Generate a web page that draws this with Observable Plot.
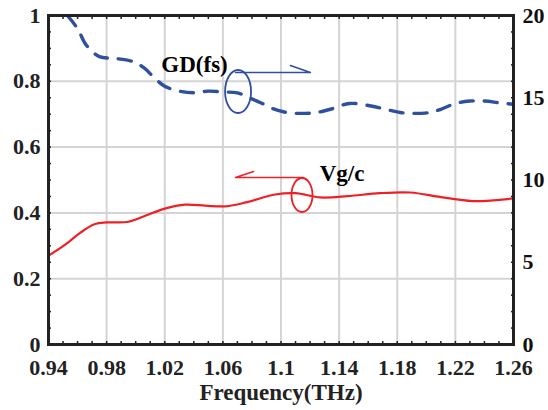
<!DOCTYPE html>
<html><head><meta charset="utf-8">
<script src="https://cdn.jsdelivr.net/npm/d3@7"></script>
<script src="https://cdn.jsdelivr.net/npm/@observablehq/plot@0.6"></script>
<style>body{margin:0;background:#fff}</style>
</head><body><div id="chart"></div>
<script>
// Red curve: Vg/c (left axis)
const vgFreq = [0.94,0.952,0.962,0.972,0.98,0.995,1.007,1.02,1.034,1.048,1.062,1.076,1.096,1.11,1.127,1.146,1.168,1.189,1.21,1.232,1.26];
const vgVal  = [0.27,0.305,0.34,0.366,0.371,0.373,0.392,0.413,0.425,0.422,0.42,0.432,0.456,0.46,0.447,0.451,0.46,0.462,0.448,0.436,0.444];
// Blue dashed curve: GD (fs) (right axis)
const gdFreq = [0.953,0.960,0.966,0.975,0.985,0.998,1.006,1.013,1.020,1.030,1.040,1.050,1.060,1.070,1.078,1.086,1.094,1.104,1.114,1.124,1.134,1.147,1.162,1.172,1.182,1.192,1.202,1.210,1.220,1.230,1.240,1.250,1.26];
const gdVal  = [20.0,19.2,18.2,17.5,17.4,17.2,16.8,16.2,15.7,15.4,15.3,15.4,15.35,15.3,15.0,14.7,14.35,14.1,14.05,14.1,14.3,14.65,14.5,14.3,14.1,14.05,14.1,14.3,14.65,14.8,14.8,14.7,14.6];

const xTicks = [0.94,0.98,1.02,1.06,1.1,1.14,1.18,1.22,1.26];
const xTickLabels = ["0.94","0.98","1.02","1.06","1.1","1.14","1.18","1.22","1.26"];
const yTicks = [0,0.2,0.4,0.6,0.8,1];
const yTickLabels = ["0","0.2","0.4","0.6","0.8","1"];
const y2Ticks = [0,5,10,15,20];
const y2TickLabels = ["0","5","10","15","20"];
const y2Max = 20;

// annotations (data coordinates)
const gdLabel = {x:1.0405, y:0.851, text:"GD(fs)"};
const vgLabel = {x:1.142, y:0.52, text:"Vg/c"};
const gdArrow = [{x:1.0687,y:0.8267},{x:1.1202,y:0.8267},{x:1.1065,y:0.848}];
const vgArrow = [{x:1.1155,y:0.5076},{x:1.0687,y:0.5076},{x:1.0811,y:0.5258}];
const gdEllipse = {x:1.0708, y:0.7675, rx:13, ry:21.5};
const vgEllipse = {x:1.1148, y:0.4529, rx:10.5, ry:17};

const BLUE = "#2f4f9f", RED = "#ee2026";
const vg = vgFreq.map((f,i)=>({f, v:vgVal[i]}));
const gd = gdFreq.map((f,i)=>({f, v:gdVal[i]/y2Max}));
const xMinor = d3.range(0.94,1.2601,0.01).map(d=>+d.toFixed(2));
const yMinor = d3.range(0,1.0001,0.05).map(d=>+d.toFixed(2));

const FF = "'Liberation Serif', 'Times New Roman', 'DejaVu Serif', serif";
const font = {fontFamily:FF, fontWeight:"bold", fontSize:22};

const chart = Plot.plot({
  width:548, height:410,
  marginLeft:48, marginRight:35, marginTop:15, marginBottom:66,
  style:{fontFamily:FF, background:"#fff", overflow:"visible"},
  x:{domain:[0.94,1.26]},
  y:{domain:[0,1]},
  marks:[
    Plot.gridX(xTicks.slice(1,-1), {stroke:"#d4d4d4", strokeWidth:2, strokeOpacity:1}),
    Plot.gridY(yTicks.slice(1,-1), {stroke:"#d4d4d4", strokeWidth:2, strokeOpacity:1}),
    Plot.axisX(xMinor, {anchor:"bottom", tickSize:-3, text:null, stroke:"#222", strokeWidth:1.5}),
    Plot.axisX(xMinor, {anchor:"top", tickSize:-3, text:null, stroke:"#222", strokeWidth:1.5}),
    Plot.axisY(yMinor, {anchor:"left", tickSize:-3, text:null, stroke:"#222", strokeWidth:1.5}),
    Plot.axisY(yMinor, {anchor:"right", tickSize:-3, text:null, stroke:"#222", strokeWidth:1.5}),
    Plot.axisX(xTicks, {anchor:"bottom", tickSize:0, tickPadding:15, tickFormat:(d,i)=>xTickLabels[i], fill:"#222", ...font, label:null}),
    Plot.axisY(yTicks, {anchor:"left", tickSize:0, tickPadding:8, tickFormat:(d,i)=>yTickLabels[i], fill:"#222", ...font, label:null}),
    Plot.axisY(y2Ticks.map(d=>d/y2Max), {anchor:"right", tickSize:0, tickPadding:9, tickFormat:(d,i)=>y2TickLabels[i], fill:"#111", ...font, label:null}),
    Plot.text(["Frequency(THz)"], {frameAnchor:"bottom", dy:55, fill:"#222", ...font, fontSize:23}),
    Plot.line(vg, {x:"f", y:"v", stroke:RED, strokeWidth:2.2, curve:"catmull-rom", clip:true}),
    Plot.line(gd, {x:"f", y:"v", stroke:BLUE, strokeWidth:3.4, strokeDasharray:"13,11", curve:"catmull-rom", clip:true}),
    Plot.line(gdArrow, {x:"x", y:"y", stroke:BLUE, strokeWidth:1.6}),
    Plot.line(vgArrow, {x:"x", y:"y", stroke:RED, strokeWidth:1.6}),
    Plot.text([gdLabel], {x:"x", y:"y", text:"text", fill:"#000", ...font, fontSize:23}),
    Plot.text([vgLabel], {x:"x", y:"y", text:"text", fill:"#000", ...font, fontSize:23}),
    Plot.frame({stroke:"#222", strokeWidth:3})
  ]
});

const sx = chart.scale("x"), sy = chart.scale("y");
const svg = d3.select(chart);
for (const [e,c] of [[gdEllipse,BLUE],[vgEllipse,RED]]) {
  svg.append("ellipse")
    .attr("cx", sx.apply(e.x)).attr("cy", sy.apply(e.y))
    .attr("rx", e.rx).attr("ry", e.ry)
    .attr("fill","none").attr("stroke",c).attr("stroke-width",1.8);
}
document.getElementById("chart").append(chart);
</script>
</body></html>
